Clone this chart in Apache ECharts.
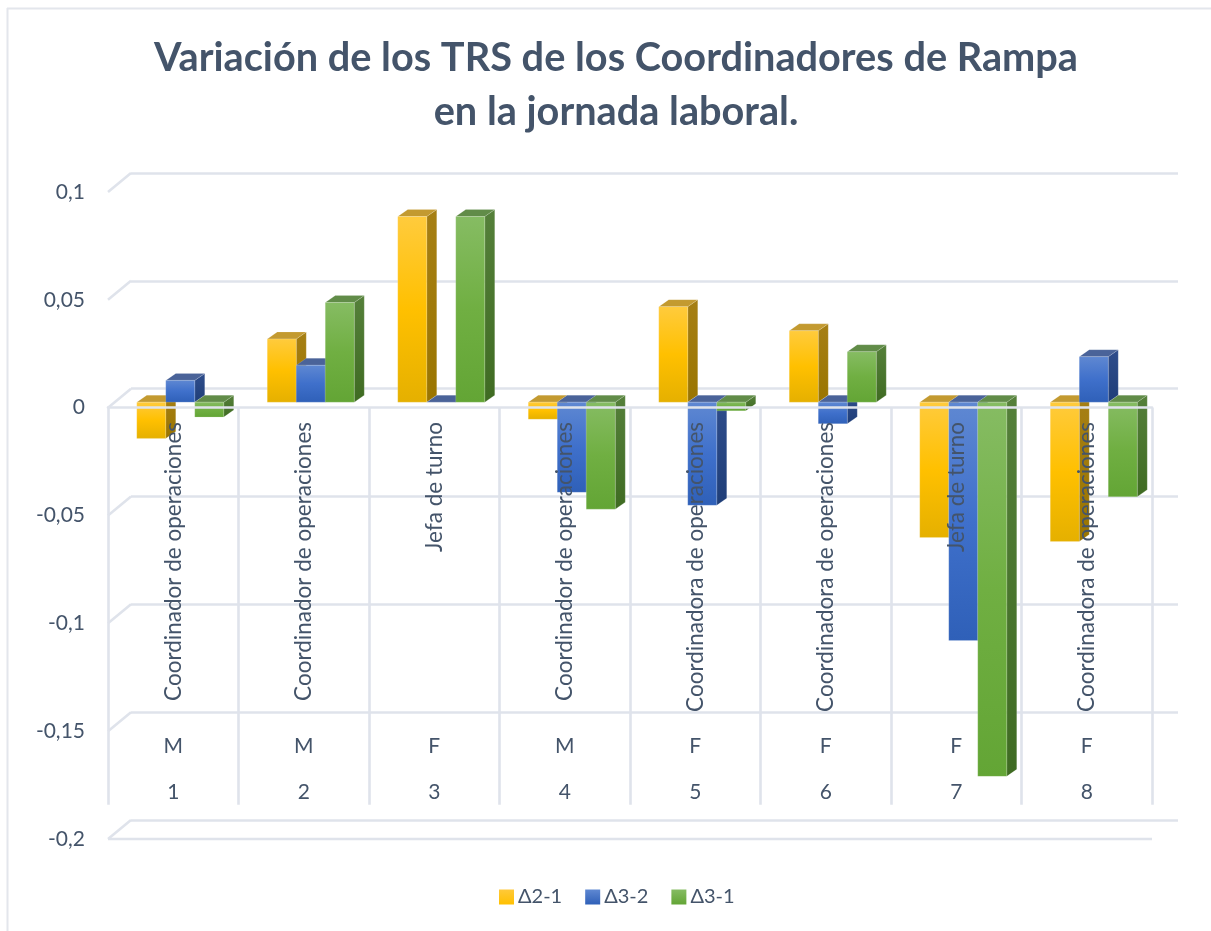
<!DOCTYPE html>
<html>
<head>
<meta charset="utf-8">
<style>html,body{margin:0;padding:0;background:#fff}#c{width:1211px;height:931px}</style>
<script src="https://cdn.jsdelivr.net/npm/echarts@6/dist/echarts.min.js"></script>
</head>
<body>
<div id="c"></div>
<script>
const numbers = ['1','2','3','4','5','6','7','8'];
const genders = ['M','M','F','M','F','F','F','F'];
const roles = [
  'Coordinador de operaciones','Coordinador de operaciones','Jefa de turno',
  'Coordinador de operaciones','Coordinadora de operaciones','Coordinadora de operaciones',
  'Jefa de turno','Coordinadora de operaciones'
];
const d21 = [-0.0168, 0.0293, 0.0861, -0.0079, 0.0443, 0.0331, -0.0628, -0.0646];
const d32 = [0.0101, 0.0171, 0, -0.0418, -0.0478, -0.0100, -0.1105, 0.0211];
const d31 = [-0.0069, 0.0462, 0.0861, -0.0496, -0.0040, 0.0234, -0.1735, -0.0438];
const yTicks = [0.1, 0.05, 0, -0.05, -0.1, -0.15, -0.2];
const titleText = 'Variación de los TRS de los Coordinadores de Rampa\nen la jornada laboral.';
const seriesNames = ['Δ2-1','Δ3-2','Δ3-1'];

const textColor = '#44546A', lineColor = '#DFE3EB', font = 'Lato';
const vg = (stops) => new echarts.graphic.LinearGradient(0,0,0,1,
  stops.map((c,i)=>({offset:i/(stops.length-1),color:c})));
const palette = [
  {front:['#FFCB3D','#FFC000','#E5B000'], top:'#C39A30', side:['#A67F14','#9A7500'], legend:['#FFC93A','#FFC000']},
  {front:['#5F88D2','#3F70CB','#2F60B8'], top:'#4A6399', side:['#2F4D8C','#1F3E78'], legend:['#5F88D2','#2F60B8']},
  {front:['#86BC63','#70AF42','#63A535'], top:'#618C48', side:['#55803A','#3F6B22'], legend:['#86BC63','#63A535']}
];
// depth geometry of the 3D view
const BAR_DX = 7, BAR_DY = -5.5, DEPTH_X = 10, DEPTH_Y = -7, WALL_DX = 23, WALL_DY = -19;

function barRender(si){
  return function(params, api){
    const idx = api.value(0), v = api.value(1);
    const band = api.size([1,0])[0];
    const w = band/4.5;
    const cx = api.coord([idx,0])[0] + BAR_DX + (si-1)*w;
    const yV = api.coord([idx,v])[1] + BAR_DY;
    const y0 = api.coord([idx,0])[1] + BAR_DY;
    const top = Math.min(yV,y0), bot = Math.max(yV,y0);
    const l = cx-w/2, r = cx+w/2;
    const p = palette[si];
    const edge = {stroke:'rgba(255,255,255,0.25)',lineWidth:0.6};
    const kids = [];
    kids.push({type:'polygon',shape:{points:[[r,top],[r+DEPTH_X,top+DEPTH_Y],[r+DEPTH_X,bot+DEPTH_Y],[r,bot]]},
      style:Object.assign({fill:vg(p.side)},edge)});
    kids.push({type:'polygon',shape:{points:[[l,top],[l+DEPTH_X,top+DEPTH_Y],[r+DEPTH_X,top+DEPTH_Y],[r,top]]},
      style:Object.assign({fill:p.top},edge)});
    if(bot-top>0.5) kids.push({type:'rect',shape:{x:l,y:top,width:w,height:bot-top},
      style:Object.assign({fill:vg(p.front)},edge)});
    return {type:'group',children:kids};
  };
}
function wallRender(params, api){
  const y = api.coord([0,api.value(0)])[1];
  const x = params.coordSys.x;
  return {type:'line',shape:{x1:x,y1:y,x2:x+WALL_DX,y2:y+WALL_DY},
    style:{stroke:lineColor,lineWidth:2.6}};
}
function frontRender(params, api){
  const y = api.coord([0,api.value(0)])[1];
  const c = params.coordSys;
  return {type:'line',shape:{x1:c.x,y1:y,x2:c.x+c.width,y2:y},style:{stroke:lineColor,lineWidth:2.6}};
}
const bars = [d21,d32,d31].map((vals,si)=>({
  name:seriesNames[si], type:'custom', xAxisIndex:0, yAxisIndex:0, z:3, clip:false,
  renderItem:barRender(si), encode:{x:0,y:1},
  itemStyle:{color:vg(palette[si].legend)},
  data:vals.map((v,i)=>[i,v])
}));
const chart = echarts.init(document.getElementById('c'),null,{renderer:'canvas'});
const catAxis = (data,off,size,rot)=>({
  type:'category',gridIndex:0,data:data,position:'bottom',offset:off,z:10,
  axisLine:{show:false,onZero:false},axisTick:{show:false},splitLine:{show:false},
  axisLabel:{color:textColor,fontFamily:font,fontSize:size,margin:0,interval:0,rotate:rot}
});
chart.setOption({
  animation:false,
  backgroundColor:'#fff',
  title:{text:titleText,left:611,top:26,textAlign:'center',
    textStyle:{color:textColor,fontFamily:font,fontWeight:'bold',fontSize:39.7,lineHeight:54}},
  legend:{data:seriesNames,left:494,top:882,itemWidth:15,itemHeight:15,itemGap:23,icon:'rect',
    textStyle:{color:textColor,fontFamily:font,fontSize:20,padding:[0,0,0,-1]}},
  grid:[
    {left:108,width:1044,top:192,height:647,outerBoundsMode:'none'},
    {left:131,width:1047,top:173,height:647,outerBoundsMode:'none'}
  ],
  xAxis:[
    {type:'category',gridIndex:0,data:numbers,position:'bottom',z:10,
      axisLine:{show:true,onZero:true,lineStyle:{color:lineColor,width:2.6}},
      axisTick:{show:true,length:397,lineStyle:{color:lineColor,width:2.6}},
      splitLine:{show:false},
      axisLabel:{show:false}},
    catAxis(roles,-417,22.5,90),
    catAxis(genders,-103,21,0),
    catAxis(numbers,-57,21,0),
    {type:'category',gridIndex:1,data:numbers,show:false}
  ],
  yAxis:[
    {type:'value',gridIndex:0,min:-0.2,max:0.1,interval:0.05,
      axisLine:{show:false},axisTick:{show:false},splitLine:{show:false},
      axisLabel:{color:textColor,fontFamily:font,fontSize:21,margin:23,padding:[3,0,0,0],
        formatter:v=>String(Math.round(v*100)/100).replace('.',',')}},
    {type:'value',gridIndex:1,min:-0.2,max:0.1,interval:0.05,
      axisLine:{show:false},axisTick:{show:false},axisLabel:{show:false},
      splitLine:{show:true,lineStyle:{color:lineColor,width:2.6}}}
  ],
  series:[
    {type:'custom',name:'paredes',xAxisIndex:0,yAxisIndex:0,z:1,clip:false,silent:true,
      renderItem:wallRender,encode:{y:0},data:yTicks.map(v=>[v])},
    {type:'custom',name:'suelo',xAxisIndex:0,yAxisIndex:0,z:1,clip:false,silent:true,
      renderItem:frontRender,encode:{y:0},data:[[-0.2]]}
  ].concat(bars),
  graphic:[
    {type:'line',shape:{x1:7,y1:8.5,x2:1211,y2:8.5},style:{stroke:'#E3E6EC',lineWidth:2}},
    {type:'line',shape:{x1:7.5,y1:8,x2:7.5,y2:931},style:{stroke:'#E3E6EC',lineWidth:2}}
  ]
});
</script>
</body>
</html>
